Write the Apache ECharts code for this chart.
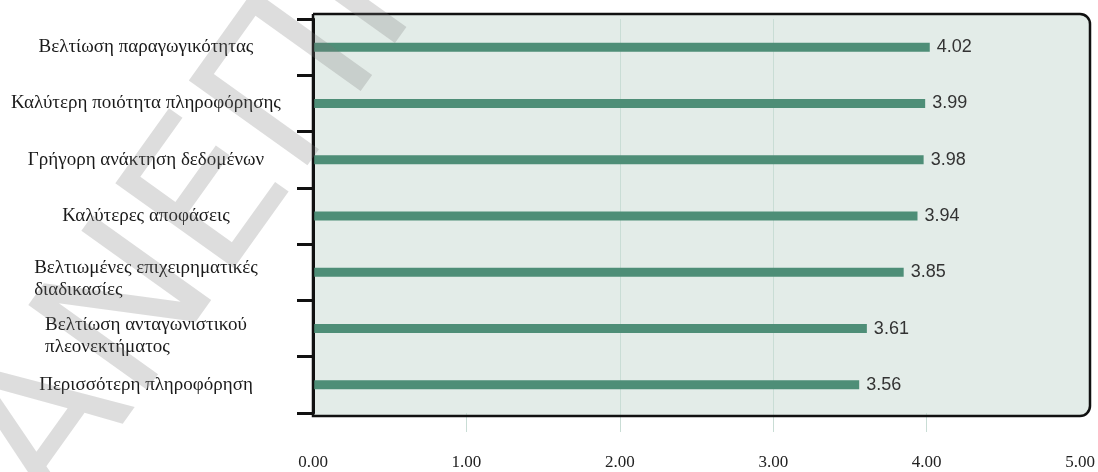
<!DOCTYPE html>
<html>
<head>
<meta charset="utf-8">
<script src="https://cdn.jsdelivr.net/npm/echarts@6/dist/echarts.min.js"></script>
<style>
  html, body { margin: 0; padding: 0; background: #fff; }
  #chart { width: 1098px; height: 472px; }
</style>
</head>
<body>
<div id="chart"></div>
<script>
var categories = [
  'Βελτίωση παραγωγικότητας',
  'Καλύτερη ποιότητα πληροφόρησης',
  'Γρήγορη ανάκτηση δεδομένων',
  'Καλύτερες αποφάσεις',
  'Βελτιωμένες επιχειρηματικές\nδιαδικασίες',
  'Βελτίωση ανταγωνιστικού\nπλεονεκτήματος',
  'Περισσότερη πληροφόρηση'
];
var values = [4.02, 3.99, 3.98, 3.94, 3.85, 3.61, 3.56];
var xMin = 0, xMax = 5, xStep = 1;
var innerTicks = [1, 2, 3, 4];

var serif = '"Liberation Serif", "DejaVu Serif", serif';
var sans = '"Liberation Sans", Arial, sans-serif';
var plotBg = '#e3ece8';
var gridColor = '#c9ddd5';

var chart = echarts.init(document.getElementById('chart'));

var option = {
  animation: false,
  grid: { left: 313, top: 19, width: 771, height: 394, containLabel: false },
  graphic: [
    {
      type: 'rect', z: -1, silent: true,
      shape: { x: 313, y: 14, width: 777, height: 402, r: [0, 10, 10, 0] },
      style: { fill: plotBg }
    },
    {
      type: 'rect', z: 50, silent: true,
      shape: { x: 313, y: 14, width: 777, height: 402, r: [0, 10, 10, 0] },
      style: { fill: 'none', stroke: '#111', lineWidth: 2.5 }
    },
    {
      type: 'text', z: 100, silent: true,
      x: 95, y: 545, rotation: 0.95,
      style: {
        text: 'ΑΝΕΠΙΣΗΜΟ',
        font: '200px "DejaVu Sans", sans-serif',
        fill: 'rgba(120,120,120,0.25)',
        textAlign: 'left', textVerticalAlign: 'bottom'
      }
    }
  ],
  xAxis: {
    type: 'value',
    min: xMin, max: xMax, interval: xStep,
    axisLine: { show: false },
    axisTick: {
      show: true, length: 19, customValues: innerTicks,
      lineStyle: { color: gridColor, width: 1 }
    },
    splitLine: {
      show: true, showMinLine: false, showMaxLine: false,
      lineStyle: { color: gridColor, width: 1 }
    },
    axisLabel: {
      margin: 41,
      fontFamily: serif, fontSize: 17, color: '#222',
      formatter: function (v) { return v.toFixed(2); }
    }
  },
  yAxis: {
    type: 'category',
    data: categories,
    inverse: true,
    axisLine: { show: true, lineStyle: { color: '#111', width: 3 } },
    axisTick: { show: true, length: 16, lineStyle: { color: '#111', width: 3 } },
    splitLine: { show: false },
    axisLabel: {
      margin: 167,
      align: 'center',
      fontFamily: serif, fontSize: 19, color: '#1a1a1a', lineHeight: 22,
      formatter: function (v) {
        return v.indexOf('\n') >= 0 ? '{l|' + v + '}' : v;
      },
      rich: {
        l: {
          align: 'left', fontFamily: serif, fontSize: 19, color: '#1a1a1a',
          lineHeight: 22, padding: [14, 0, 0, 0]
        }
      }
    }
  },
  series: [
    {
      type: 'bar',
      data: values,
      barWidth: 9,
      itemStyle: { color: '#4e8e77' },
      label: {
        show: true, position: 'right', distance: 7,
        fontFamily: sans, fontSize: 18, color: '#333',
        formatter: function (p) { return p.value.toFixed(2); }
      }
    }
  ]
};

chart.setOption(option);
window.addEventListener('resize', chart.resize);
</script>
</body>
</html>
